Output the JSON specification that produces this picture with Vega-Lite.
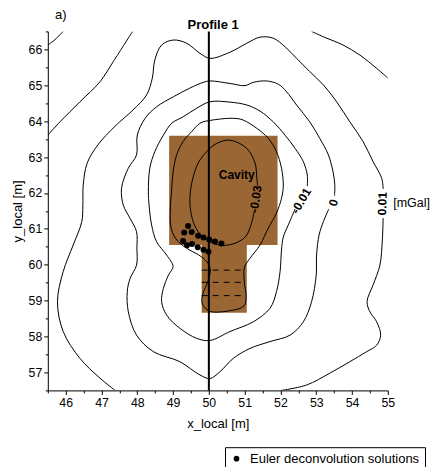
{
  "$schema": "https://vega.github.io/schema/vega-lite/v6.json",
  "width": 340,
  "height": 359,
  "autosize": {"type": "none"},
  "padding": {"left": 47.8, "top": 31.4, "right": 44.2, "bottom": 76.6},
  "background": "white",
  "config": {"view": {"stroke": null}, "font": "Liberation Sans"},
  "datasets": {
    "cavity": [
      {"part": "block", "x": 48.89, "x2": 51.92, "y": 60.55, "y2": 63.59},
      {"part": "shaft", "x": 49.80, "x2": 51.06, "y": 58.66, "y2": 60.55}
    ],
    "dashes": [
      {"x": 49.8, "x2": 51.02, "y": 59.85},
      {"x": 49.8, "x2": 51.02, "y": 59.51},
      {"x": 49.8, "x2": 51.02, "y": 59.14}
    ],
    "profile": [{"x": 50, "y": 56.5, "y2": 66.5}],
    "open": [
      {"c": "m003", "i": 1, "x": 51.27, "y": 61.50},
      {"c": "m003", "i": 2, "x": 51.20, "y": 61.19},
      {"c": "m003", "i": 3, "x": 51.04, "y": 60.80},
      {"c": "m003", "i": 4, "x": 50.76, "y": 60.61},
      {"c": "m003", "i": 5, "x": 50.39, "y": 60.54},
      {"c": "m003", "i": 6, "x": 50.09, "y": 60.61},
      {"c": "m003", "i": 7, "x": 49.81, "y": 60.80},
      {"c": "m003", "i": 8, "x": 49.61, "y": 61.08},
      {"c": "m003", "i": 9, "x": 49.49, "y": 61.50},
      {"c": "m003", "i": 10, "x": 49.47, "y": 61.80},
      {"c": "m003", "i": 11, "x": 49.52, "y": 62.27},
      {"c": "m003", "i": 12, "x": 49.70, "y": 62.83},
      {"c": "m003", "i": 13, "x": 49.94, "y": 63.15},
      {"c": "m003", "i": 14, "x": 50.22, "y": 63.38},
      {"c": "m003", "i": 15, "x": 50.59, "y": 63.47},
      {"c": "m003", "i": 16, "x": 51.06, "y": 63.24},
      {"c": "m003", "i": 17, "x": 51.29, "y": 62.83},
      {"c": "m003", "i": 18, "x": 51.34, "y": 62.42},
      {"c": "m003", "i": 19, "x": 51.36, "y": 62.19},

      {"c": "m001", "i": 1, "x": 52.41, "y": 61.55},
      {"c": "m001", "i": 2, "x": 52.22, "y": 61.11},
      {"c": "m001", "i": 3, "x": 52.08, "y": 60.77},
      {"c": "m001", "i": 4, "x": 52.03, "y": 60.41},
      {"c": "m001", "i": 5, "x": 51.99, "y": 59.81},
      {"c": "m001", "i": 6, "x": 51.89, "y": 59.25},
      {"c": "m001", "i": 7, "x": 51.71, "y": 58.79},
      {"c": "m001", "i": 8, "x": 51.24, "y": 58.41},
      {"c": "m001", "i": 9, "x": 50.59, "y": 58.14},
      {"c": "m001", "i": 10, "x": 50.03, "y": 57.89},
      {"c": "m001", "i": 11, "x": 49.66, "y": 57.95},
      {"c": "m001", "i": 12, "x": 49.19, "y": 58.23},
      {"c": "m001", "i": 13, "x": 48.82, "y": 58.60},
      {"c": "m001", "i": 14, "x": 48.68, "y": 58.97},
      {"c": "m001", "i": 15, "x": 48.73, "y": 59.34},
      {"c": "m001", "i": 16, "x": 48.87, "y": 59.71},
      {"c": "m001", "i": 17, "x": 49.00, "y": 59.95},
      {"c": "m001", "i": 18, "x": 48.82, "y": 60.27},
      {"c": "m001", "i": 19, "x": 48.54, "y": 60.64},
      {"c": "m001", "i": 20, "x": 48.40, "y": 61.11},
      {"c": "m001", "i": 21, "x": 48.33, "y": 61.66},
      {"c": "m001", "i": 22, "x": 48.31, "y": 62.03},
      {"c": "m001", "i": 23, "x": 48.35, "y": 62.69},
      {"c": "m001", "i": 24, "x": 48.49, "y": 63.15},
      {"c": "m001", "i": 25, "x": 48.73, "y": 63.61},
      {"c": "m001", "i": 26, "x": 48.96, "y": 63.94},
      {"c": "m001", "i": 27, "x": 49.28, "y": 64.12},
      {"c": "m001", "i": 28, "x": 49.66, "y": 64.36},
      {"c": "m001", "i": 29, "x": 50.03, "y": 64.54},
      {"c": "m001", "i": 30, "x": 50.59, "y": 64.53},
      {"c": "m001", "i": 31, "x": 51.06, "y": 64.45},
      {"c": "m001", "i": 32, "x": 51.43, "y": 64.28},
      {"c": "m001", "i": 33, "x": 51.80, "y": 63.98},
      {"c": "m001", "i": 34, "x": 52.13, "y": 63.61},
      {"c": "m001", "i": 35, "x": 52.41, "y": 63.24},
      {"c": "m001", "i": 36, "x": 52.64, "y": 62.87},
      {"c": "m001", "i": 37, "x": 52.75, "y": 62.50},
      {"c": "m001", "i": 38, "x": 52.75, "y": 62.19},

      {"c": "z0", "i": 1, "x": 53.35, "y": 61.55},
      {"c": "z0", "i": 2, "x": 53.20, "y": 61.20},
      {"c": "z0", "i": 3, "x": 53.08, "y": 60.83},
      {"c": "z0", "i": 4, "x": 53.01, "y": 60.27},
      {"c": "z0", "i": 5, "x": 53.00, "y": 59.71},
      {"c": "z0", "i": 6, "x": 52.87, "y": 58.97},
      {"c": "z0", "i": 7, "x": 52.64, "y": 58.41},
      {"c": "z0", "i": 8, "x": 52.27, "y": 58.04},
      {"c": "z0", "i": 9, "x": 51.71, "y": 57.86},
      {"c": "z0", "i": 10, "x": 51.15, "y": 57.67},
      {"c": "z0", "i": 11, "x": 50.68, "y": 57.39},
      {"c": "z0", "i": 12, "x": 50.31, "y": 57.02},
      {"c": "z0", "i": 13, "x": 50.03, "y": 56.83},
      {"c": "z0", "i": 14, "x": 49.75, "y": 56.93},
      {"c": "z0", "i": 15, "x": 49.19, "y": 57.30},
      {"c": "z0", "i": 16, "x": 48.45, "y": 57.58},
      {"c": "z0", "i": 17, "x": 47.98, "y": 58.04},
      {"c": "z0", "i": 18, "x": 47.75, "y": 58.69},
      {"c": "z0", "i": 19, "x": 47.72, "y": 59.25},
      {"c": "z0", "i": 20, "x": 47.80, "y": 59.62},
      {"c": "z0", "i": 21, "x": 47.98, "y": 59.99},
      {"c": "z0", "i": 22, "x": 47.99, "y": 60.47},
      {"c": "z0", "i": 23, "x": 47.98, "y": 60.92},
      {"c": "z0", "i": 24, "x": 47.80, "y": 61.29},
      {"c": "z0", "i": 25, "x": 47.61, "y": 61.66},
      {"c": "z0", "i": 26, "x": 47.56, "y": 62.13},
      {"c": "z0", "i": 27, "x": 47.75, "y": 62.69},
      {"c": "z0", "i": 28, "x": 47.98, "y": 63.06},
      {"c": "z0", "i": 29, "x": 48.00, "y": 63.61},
      {"c": "z0", "i": 30, "x": 48.22, "y": 64.08},
      {"c": "z0", "i": 31, "x": 48.54, "y": 64.40},
      {"c": "z0", "i": 32, "x": 49.01, "y": 64.68},
      {"c": "z0", "i": 33, "x": 49.47, "y": 64.92},
      {"c": "z0", "i": 34, "x": 49.84, "y": 65.08},
      {"c": "z0", "i": 35, "x": 50.03, "y": 65.12},
      {"c": "z0", "i": 36, "x": 50.59, "y": 65.05},
      {"c": "z0", "i": 37, "x": 51.01, "y": 64.99},
      {"c": "z0", "i": 38, "x": 51.24, "y": 65.08},
      {"c": "z0", "i": 39, "x": 51.61, "y": 65.12},
      {"c": "z0", "i": 40, "x": 51.94, "y": 65.03},
      {"c": "z0", "i": 41, "x": 52.17, "y": 64.82},
      {"c": "z0", "i": 42, "x": 52.45, "y": 64.45},
      {"c": "z0", "i": 43, "x": 52.82, "y": 63.98},
      {"c": "z0", "i": 44, "x": 53.10, "y": 63.52},
      {"c": "z0", "i": 45, "x": 53.34, "y": 63.06},
      {"c": "z0", "i": 46, "x": 53.47, "y": 62.59},
      {"c": "z0", "i": 47, "x": 53.52, "y": 62.22},
      {"c": "z0", "i": 48, "x": 53.51, "y": 61.92},

      {"c": "p001a", "i": 1, "x": 47.38, "y": 56.5},
      {"c": "p001a", "i": 2, "x": 46.96, "y": 56.84},
      {"c": "p001a", "i": 3, "x": 46.40, "y": 57.39},
      {"c": "p001a", "i": 4, "x": 45.93, "y": 58.14},
      {"c": "p001a", "i": 5, "x": 45.77, "y": 58.97},
      {"c": "p001a", "i": 6, "x": 45.93, "y": 59.81},
      {"c": "p001a", "i": 7, "x": 46.21, "y": 60.55},
      {"c": "p001a", "i": 8, "x": 46.45, "y": 61.20},
      {"c": "p001a", "i": 9, "x": 46.48, "y": 61.66},
      {"c": "p001a", "i": 10, "x": 46.49, "y": 62.22},
      {"c": "p001a", "i": 11, "x": 46.60, "y": 62.83},
      {"c": "p001a", "i": 12, "x": 46.90, "y": 63.34},
      {"c": "p001a", "i": 13, "x": 47.38, "y": 63.86},
      {"c": "p001a", "i": 14, "x": 47.88, "y": 64.31},
      {"c": "p001a", "i": 15, "x": 48.26, "y": 64.73},
      {"c": "p001a", "i": 16, "x": 48.42, "y": 65.20},
      {"c": "p001a", "i": 17, "x": 48.49, "y": 65.70},
      {"c": "p001a", "i": 18, "x": 48.68, "y": 66.12},
      {"c": "p001a", "i": 19, "x": 49.01, "y": 66.26},
      {"c": "p001a", "i": 20, "x": 49.38, "y": 66.17},
      {"c": "p001a", "i": 21, "x": 49.75, "y": 65.89},
      {"c": "p001a", "i": 22, "x": 50.03, "y": 65.75},
      {"c": "p001a", "i": 23, "x": 50.59, "y": 65.92},
      {"c": "p001a", "i": 24, "x": 51.06, "y": 66.17},
      {"c": "p001a", "i": 25, "x": 51.43, "y": 66.34},
      {"c": "p001a", "i": 26, "x": 51.80, "y": 66.31},
      {"c": "p001a", "i": 27, "x": 52.13, "y": 66.07},
      {"c": "p001a", "i": 28, "x": 52.45, "y": 65.75},
      {"c": "p001a", "i": 29, "x": 52.82, "y": 65.38},
      {"c": "p001a", "i": 30, "x": 53.20, "y": 65.01},
      {"c": "p001a", "i": 31, "x": 53.57, "y": 64.54},
      {"c": "p001a", "i": 32, "x": 53.94, "y": 63.98},
      {"c": "p001a", "i": 33, "x": 54.31, "y": 63.43},
      {"c": "p001a", "i": 34, "x": 54.59, "y": 62.87},
      {"c": "p001a", "i": 35, "x": 54.83, "y": 62.41},
      {"c": "p001a", "i": 36, "x": 54.87, "y": 62.11},

      {"c": "p001b", "i": 1, "x": 54.87, "y": 61.30},
      {"c": "p001b", "i": 2, "x": 54.85, "y": 60.74},
      {"c": "p001b", "i": 3, "x": 54.78, "y": 59.99},
      {"c": "p001b", "i": 4, "x": 54.59, "y": 59.44},
      {"c": "p001b", "i": 5, "x": 54.42, "y": 58.97},
      {"c": "p001b", "i": 6, "x": 54.50, "y": 58.69},
      {"c": "p001b", "i": 7, "x": 54.69, "y": 58.41},
      {"c": "p001b", "i": 8, "x": 54.80, "y": 58.04},
      {"c": "p001b", "i": 9, "x": 54.69, "y": 57.76},
      {"c": "p001b", "i": 10, "x": 54.41, "y": 57.58},
      {"c": "p001b", "i": 11, "x": 53.94, "y": 57.30},
      {"c": "p001b", "i": 12, "x": 53.38, "y": 56.98},
      {"c": "p001b", "i": 13, "x": 52.73, "y": 56.65},
      {"c": "p001b", "i": 14, "x": 52.03, "y": 56.5},

      {"c": "p002a", "i": 1, "x": 45.5, "y": 63.61},
      {"c": "p002a", "i": 2, "x": 45.84, "y": 63.98},
      {"c": "p002a", "i": 3, "x": 46.40, "y": 64.54},
      {"c": "p002a", "i": 4, "x": 46.96, "y": 65.10},
      {"c": "p002a", "i": 5, "x": 47.33, "y": 65.66},
      {"c": "p002a", "i": 6, "x": 47.87, "y": 66.5},

      {"c": "p002b", "i": 1, "x": 52.87, "y": 66.5},
      {"c": "p002b", "i": 2, "x": 53.20, "y": 66.35},
      {"c": "p002b", "i": 3, "x": 53.75, "y": 66.12},
      {"c": "p002b", "i": 4, "x": 54.22, "y": 65.84},
      {"c": "p002b", "i": 5, "x": 54.69, "y": 65.47},
      {"c": "p002b", "i": 6, "x": 55.0, "y": 65.20},

      {"c": "p003", "i": 1, "x": 45.5, "y": 66.12},
      {"c": "p003", "i": 2, "x": 45.70, "y": 66.27},
      {"c": "p003", "i": 3, "x": 45.93, "y": 66.5}
    ],
    "closed": [
      {"c": "m002", "i": 1, "x": 50.03, "y": 64.02},
      {"c": "m002", "i": 2, "x": 50.59, "y": 64.08},
      {"c": "m002", "i": 3, "x": 50.96, "y": 64.03},
      {"c": "m002", "i": 4, "x": 51.34, "y": 63.80},
      {"c": "m002", "i": 5, "x": 51.66, "y": 63.52},
      {"c": "m002", "i": 6, "x": 51.89, "y": 63.15},
      {"c": "m002", "i": 7, "x": 52.03, "y": 62.69},
      {"c": "m002", "i": 8, "x": 52.08, "y": 62.22},
      {"c": "m002", "i": 9, "x": 52.03, "y": 61.85},
      {"c": "m002", "i": 10, "x": 51.89, "y": 61.44},
      {"c": "m002", "i": 11, "x": 51.66, "y": 61.02},
      {"c": "m002", "i": 12, "x": 51.43, "y": 60.55},
      {"c": "m002", "i": 13, "x": 51.15, "y": 60.18},
      {"c": "m002", "i": 14, "x": 50.99, "y": 59.91},
      {"c": "m002", "i": 15, "x": 50.99, "y": 59.52},
      {"c": "m002", "i": 16, "x": 51.04, "y": 59.13},
      {"c": "m002", "i": 17, "x": 50.98, "y": 58.85},
      {"c": "m002", "i": 18, "x": 50.65, "y": 58.73},
      {"c": "m002", "i": 19, "x": 50.17, "y": 58.68},
      {"c": "m002", "i": 20, "x": 49.95, "y": 58.75},
      {"c": "m002", "i": 21, "x": 49.81, "y": 58.93},
      {"c": "m002", "i": 22, "x": 49.84, "y": 59.21},
      {"c": "m002", "i": 23, "x": 49.97, "y": 59.52},
      {"c": "m002", "i": 24, "x": 50.04, "y": 59.85},
      {"c": "m002", "i": 25, "x": 49.95, "y": 60.08},
      {"c": "m002", "i": 26, "x": 49.72, "y": 60.27},
      {"c": "m002", "i": 27, "x": 49.38, "y": 60.46},
      {"c": "m002", "i": 28, "x": 49.08, "y": 60.72},
      {"c": "m002", "i": 29, "x": 48.93, "y": 61.11},
      {"c": "m002", "i": 30, "x": 48.93, "y": 61.66},
      {"c": "m002", "i": 31, "x": 48.96, "y": 62.08},
      {"c": "m002", "i": 32, "x": 49.00, "y": 62.58},
      {"c": "m002", "i": 33, "x": 49.10, "y": 63.06},
      {"c": "m002", "i": 34, "x": 49.28, "y": 63.43},
      {"c": "m002", "i": 35, "x": 49.52, "y": 63.71},
      {"c": "m002", "i": 36, "x": 49.75, "y": 63.94}
    ],
    "euler": [
      {"s": "Euler deconvolution solutions", "x": 49.42, "y": 61.08},
      {"s": "Euler deconvolution solutions", "x": 49.31, "y": 60.90},
      {"s": "Euler deconvolution solutions", "x": 49.52, "y": 60.91},
      {"s": "Euler deconvolution solutions", "x": 49.70, "y": 60.81},
      {"s": "Euler deconvolution solutions", "x": 49.85, "y": 60.76},
      {"s": "Euler deconvolution solutions", "x": 50.01, "y": 60.70},
      {"s": "Euler deconvolution solutions", "x": 50.17, "y": 60.65},
      {"s": "Euler deconvolution solutions", "x": 50.35, "y": 60.59},
      {"s": "Euler deconvolution solutions", "x": 49.28, "y": 60.66},
      {"s": "Euler deconvolution solutions", "x": 49.39, "y": 60.54},
      {"s": "Euler deconvolution solutions", "x": 49.53, "y": 60.58},
      {"s": "Euler deconvolution solutions", "x": 49.69, "y": 60.49},
      {"s": "Euler deconvolution solutions", "x": 49.85, "y": 60.42},
      {"s": "Euler deconvolution solutions", "x": 49.99, "y": 60.36}
    ],
    "levels": [
      {"t": "-0.03", "x": 51.31, "y": 61.83},
      {"t": "-0.01", "x": 52.58, "y": 61.78},
      {"t": "0", "x": 53.48, "y": 61.73},
      {"t": "0.01", "x": 54.85, "y": 61.70}
    ]
  },
  "encoding": {
    "x": {
      "field": "x",
      "type": "quantitative",
      "scale": {"domain": [45.5, 55], "nice": false, "zero": false},
      "axis": {
        "title": "x_local [m]",
        "values": [45.5, 46, 46.5, 47, 47.5, 48, 48.5, 49, 49.5, 50, 50.5, 51, 51.5, 52, 52.5, 53, 53.5, 54, 54.5, 55],
        "labelExpr": "datum.value % 1 === 0 ? '' + datum.value : ''",
        "grid": false,
        "domainColor": "black",
        "domainWidth": 1,
        "tickColor": "black",
        "tickWidth": 1,
        "tickSize": {"condition": {"test": "datum.value % 1 !== 0", "value": 2.5}, "value": 4},
        "labelFont": "Liberation Sans",
        "labelFontSize": 12.3,
        "labelColor": "black",
        "labelBaseline": "alphabetic",
        "labelPadding": 12.3,
        "labelFlush": false,
        "labelOverlap": false,
        "titleFont": "Liberation Sans",
        "titleFontSize": 13,
        "titleFontWeight": "normal",
        "titleColor": "black",
        "titleX": 170,
        "titleY": 36.8,
        "titleBaseline": "alphabetic",
        "titleAlign": "center"
      }
    },
    "y": {
      "field": "y",
      "type": "quantitative",
      "scale": {"domain": [56.5, 66.5], "nice": false, "zero": false},
      "axis": {
        "title": "y_local [m]",
        "values": [56.5, 57, 57.5, 58, 58.5, 59, 59.5, 60, 60.5, 61, 61.5, 62, 62.5, 63, 63.5, 64, 64.5, 65, 65.5, 66, 66.5],
        "labelExpr": "datum.value % 1 === 0 ? '' + datum.value : ''",
        "grid": false,
        "domainColor": "black",
        "domainWidth": 1,
        "tickColor": "black",
        "tickWidth": 1,
        "tickSize": {"condition": {"test": "datum.value % 1 !== 0", "value": 2.5}, "value": 4},
        "labelFont": "Liberation Sans",
        "labelFontSize": 12.3,
        "labelColor": "black",
        "labelPadding": 2,
        "labelFlush": false,
        "labelOverlap": false,
        "titleFont": "Liberation Sans",
        "titleFontSize": 13,
        "titleFontWeight": "normal",
        "titleColor": "black",
        "titleAngle": -90,
        "titleX": -26.5,
        "titleY": 179.5,
        "titleBaseline": "alphabetic",
        "titleAlign": "center"
      }
    }
  },
  "layer": [
    {
      "data": {"name": "cavity"},
      "mark": {"type": "rect", "color": "#9a6633", "strokeWidth": 0},
      "encoding": {"x2": {"field": "x2"}, "y2": {"field": "y2"}}
    },
    {
      "data": {"name": "dashes"},
      "mark": {"type": "rule", "color": "black", "strokeWidth": 1, "strokeDash": [6, 5]},
      "encoding": {"x2": {"field": "x2"}}
    },
    {
      "data": {"name": "open"},
      "mark": {"type": "line", "color": "black", "strokeWidth": 1, "interpolate": "catmull-rom", "clip": true},
      "encoding": {"detail": {"field": "c"}, "order": {"field": "i", "type": "quantitative"}}
    },
    {
      "data": {"name": "closed"},
      "mark": {"type": "line", "color": "black", "strokeWidth": 1, "interpolate": "cardinal-closed", "clip": true},
      "encoding": {"detail": {"field": "c"}, "order": {"field": "i", "type": "quantitative"}}
    },
    {
      "data": {"name": "profile"},
      "mark": {"type": "rule", "color": "black", "strokeWidth": 2},
      "encoding": {"y2": {"field": "y2"}}
    },
    {
      "data": {"name": "euler"},
      "mark": {"type": "circle", "size": 36, "opacity": 1},
      "encoding": {
        "color": {
          "field": "s",
          "type": "nominal",
          "scale": {"range": ["black"]},
          "legend": {
            "title": null,
            "orient": "none",
            "legendX": 177.2,
            "legendY": 415.8,
            "strokeColor": "black",
            "fillColor": "white",
            "padding": 5,
            "cornerRadius": 0,
            "labelFont": "Liberation Sans",
            "labelFontSize": 13,
            "labelColor": "black",
            "labelLimit": 400,
            "labelOffset": 7,
            "symbolType": "circle",
            "symbolSize": 32,
            "symbolStrokeWidth": 0
          }
        }
      }
    },
    {
      "data": {"name": "levels"},
      "mark": {"type": "text", "font": "Liberation Sans", "fontWeight": "bold", "fontSize": 12, "align": "center", "baseline": "middle", "color": "black"},
      "encoding": {
        "text": {"field": "t"},
        "angle": {
          "condition": [
            {"test": "datum.t === '-0.03'", "value": -82},
            {"test": "datum.t === '-0.01'", "value": -60},
            {"test": "datum.t === '0'", "value": -75}
          ],
          "value": -88
        }
      }
    },
    {
      "data": {"values": [{"t": "Cavity", "x": 50.78, "y": 62.5}]},
      "mark": {"type": "text", "font": "Liberation Sans", "fontWeight": "bold", "fontSize": 12, "align": "center", "baseline": "middle", "color": "black"},
      "encoding": {"text": {"field": "t"}}
    },
    {
      "data": {"values": [{"t": "Profile 1", "x": 50.12, "y": 66.57}]},
      "mark": {"type": "text", "font": "Liberation Sans", "fontWeight": "bold", "fontSize": 13, "align": "center", "baseline": "alphabetic", "color": "black"},
      "encoding": {"text": {"field": "t"}}
    },
    {
      "data": {"values": [{"t": "a)", "x": 45.70, "y": 66.85}]},
      "mark": {"type": "text", "font": "Liberation Sans", "fontSize": 13, "align": "left", "baseline": "alphabetic", "color": "black"},
      "encoding": {"text": {"field": "t"}}
    },
    {
      "data": {"values": [{"t": "[mGal]", "x": 55.15, "y": 61.72}]},
      "mark": {"type": "text", "font": "Liberation Sans", "fontSize": 12.5, "align": "left", "baseline": "middle", "color": "black"},
      "encoding": {"text": {"field": "t"}}
    }
  ]
}
